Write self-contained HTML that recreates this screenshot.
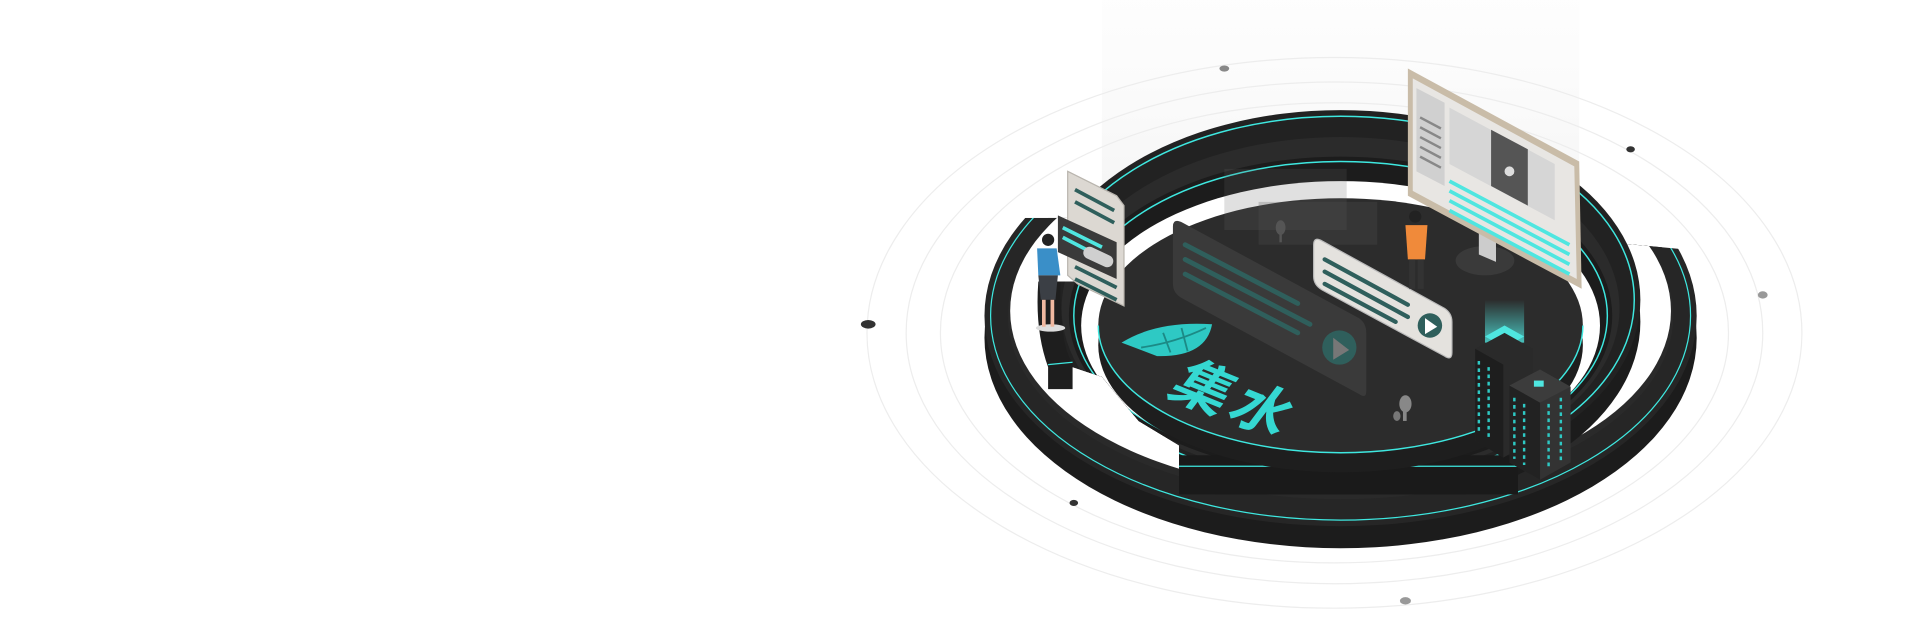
<!DOCTYPE html>
<html><head><meta charset="utf-8"><style>
html,body{margin:0;padding:0;background:#fff;width:1920px;height:640px;overflow:hidden}
svg{display:block}
</style></head><body>
<svg width="1920" height="640" viewBox="0 0 1568 523" xmlns="http://www.w3.org/2000/svg">
<defs>
<linearGradient id="fade" x1="0" y1="0" x2="0" y2="1">
<stop offset="0" stop-color="#fafafa" stop-opacity="0.3"/><stop offset="1" stop-color="#f3f3f3" stop-opacity="1"/>
</linearGradient>
<clipPath id="outerClip"><path d="M780 178 L1100 178 L1400 206 L1400 523 L780 523 Z"/></clipPath>
<clipPath id="midClip"><path d="M700 0 L1600 0 L1600 523 L1240 523 L1240 404 L963 404 L963 364 L930 344 L900 308 L876 300 L848 300 L848 230 L886 230 L886 130 L700 130 Z"/></clipPath>
<linearGradient id="glow" x1="0" y1="0" x2="0" y2="1">
<stop offset="0" stop-color="#4fe6e0" stop-opacity="0"/><stop offset="1" stop-color="#4fe6e0" stop-opacity="0.8"/>
</linearGradient>
</defs>
<rect x="900" y="0" width="390" height="190" fill="url(#fade)"/>
<g fill="none" stroke="#ededed" stroke-width="1">
<ellipse cx="1090" cy="272" rx="382" ry="225"/>
<ellipse cx="1090" cy="272" rx="350" ry="205"/>
<ellipse cx="1090" cy="272" rx="322" ry="188"/>
</g>
<ellipse cx="1000" cy="56" rx="4" ry="2.5" fill="#888"/>
<ellipse cx="1332" cy="122" rx="3.5" ry="2.5" fill="#333"/>
<ellipse cx="1440" cy="241" rx="4" ry="3" fill="#999"/>
<ellipse cx="709" cy="265" rx="6" ry="3.5" fill="#333"/>
<ellipse cx="877" cy="411" rx="3.5" ry="2.5" fill="#333"/>
<ellipse cx="1148" cy="491" rx="4.5" ry="3" fill="#999"/>

<!-- outer C ring -->
<g clip-path="url(#outerClip)">
<ellipse cx="1095" cy="276" rx="291" ry="172" fill="#1c1c1c"/>
<ellipse cx="1095" cy="258" rx="291" ry="172" fill="#262626"/>
<ellipse cx="1095" cy="258" rx="286" ry="167" fill="none" stroke="#3ee8e0" stroke-width="1"/>
<ellipse cx="1095" cy="258" rx="272" ry="150" fill="#2a2a2a"/>
<ellipse cx="1095" cy="254" rx="270" ry="148" fill="#fff"/>
</g>

<!-- middle ring -->
<g clip-path="url(#midClip)">
<ellipse cx="1095" cy="263" rx="245" ry="155" fill="#1c1c1c"/>
<ellipse cx="1095" cy="245" rx="245" ry="155" fill="#222"/>
<ellipse cx="1095" cy="245" rx="240" ry="150" fill="none" stroke="#3ee8e0" stroke-width="1.2"/>
<ellipse cx="1095" cy="252" rx="228" ry="140" fill="#2b2b2b"/>
<ellipse cx="1095" cy="258" rx="222" ry="130" fill="#1c1c1c"/>
<ellipse cx="1095" cy="258" rx="218" ry="126" fill="none" stroke="#3ee8e0" stroke-width="1.2"/>
<ellipse cx="1095" cy="266" rx="212" ry="118" fill="#fff"/>
</g>
<path d="M848 230 L866 230 Q866 285 876 296 L876 318 L856 318 L856 300 Q845 270 848 230 Z" fill="#1e1e1e"/>
<line x1="856" y1="298" x2="876" y2="296" stroke="#3ee8e0" stroke-width="1"/>

<!-- front block -->
<path d="M963 372 L1240 372 L1240 404 L963 404 Z" fill="#1a1a1a"/>
<line x1="963" y1="381" x2="1240" y2="381" stroke="#3ee8e0" stroke-width="1"/>
<!-- inner platform -->
<ellipse cx="1095" cy="282" rx="198" ry="104" fill="#1e1e1e"/>
<ellipse cx="1095" cy="266" rx="198" ry="104" fill="#2c2c2c"/>
<path d="M897 266 A198 104 0 0 0 1293 266" fill="none" stroke="#3ee8e0" stroke-width="1.2"/>
<path d="M1000 138 L1100 138 L1100 188 L1000 188 Z" fill="#666" opacity="0.2"/>
<path d="M1028 165 L1125 165 L1125 200 L1028 200 Z" fill="#555" opacity="0.25"/>
<!-- big dark panel -->
<path d="M958 185 Q958 178 966 182 L1110 260 Q1116 264 1116 272 L1116 320 Q1116 326 1110 322 L966 244 Q958 240 958 232 Z" fill="#3a3a3a"/>
<g stroke="#2f5f5c" stroke-width="4" stroke-linecap="round">
<line x1="968" y1="200" x2="1060" y2="248"/>
<line x1="968" y1="212" x2="1070" y2="265"/>
<line x1="968" y1="224" x2="1060" y2="272"/>
</g>
<circle cx="1094" cy="284" r="14" fill="#2f5f5c"/>
<path d="M1089 276 L1102 286 L1089 294 Z" fill="#777"/>
<!-- light panel -->
<path d="M1073 200 Q1073 193 1080 197 L1180 252 Q1186 256 1186 263 L1186 288 Q1186 295 1180 291 L1080 237 Q1073 233 1073 226 Z" fill="#e4e2de" stroke="#bbb"/>
<g stroke="#2f5f5c" stroke-width="3.5" stroke-linecap="round">
<line x1="1082" y1="212" x2="1150" y2="249"/>
<line x1="1082" y1="222" x2="1150" y2="259"/>
<line x1="1082" y1="232" x2="1140" y2="263"/>
</g>
<circle cx="1168" cy="266" r="10" fill="#2f5f5c"/>
<path d="M1164 260 L1174 267 L1164 273 Z" fill="#fff"/>
<!-- logo -->
<path d="M916 280 Q945 262 990 265 Q985 292 945 291 Z" fill="#2ec9c4"/>
<g stroke="#1c8a86" stroke-width="1.5" fill="none"><path d="M932 284 Q960 280 985 268"/><line x1="950" y1="272" x2="956" y2="288"/><line x1="965" y1="268" x2="970" y2="287"/></g>
<text x="0" y="0" font-family="'Noto Sans CJK SC', sans-serif" font-size="46" font-weight="bold" fill="#35d8d2" transform="translate(952 322) rotate(22) skewX(-15)">集</text>
<text x="0" y="0" font-family="'Noto Sans CJK SC', sans-serif" font-size="46" font-weight="bold" fill="#35d8d2" transform="translate(1000 340) rotate(22) skewX(-15)">水</text>
<ellipse cx="1046" cy="186" rx="4" ry="6" fill="#555"/><rect x="1045" y="190" width="2" height="8" fill="#555"/>
<ellipse cx="1148" cy="330" rx="5" ry="7" fill="#888"/><rect x="1146" y="336" width="3" height="8" fill="#888"/>
<ellipse cx="1141" cy="340" rx="3" ry="4" fill="#777"/>
<!-- left phone panels -->
<path d="M872 140 L912 160 L918 168 L918 250 L880 232 L872 225 Z" fill="#dcd8d2" stroke="#b9b5ae"/>
<g stroke="#2f5f5c" stroke-width="3"><line x1="878" y1="155" x2="910" y2="172"/><line x1="878" y1="165" x2="910" y2="182"/><line x1="878" y1="218" x2="912" y2="235"/><line x1="878" y1="228" x2="912" y2="245"/></g>
<path d="M864 176 L912 198 L912 228 L864 206 Z" fill="#3a3a3a"/>
<g stroke="#4fe6e0" stroke-width="3"><line x1="868" y1="186" x2="900" y2="202"/><line x1="868" y1="194" x2="895" y2="208"/></g>
<rect x="884" y="205" width="26" height="10" rx="5" fill="#cfcfcf" transform="rotate(25 897 210)"/>
<!-- woman -->
<ellipse cx="858" cy="268" rx="12" ry="3" fill="#ddd"/>
<circle cx="856" cy="196" r="5" fill="#222"/>
<path d="M847 203 L863 203 L866 225 L848 225 Z" fill="#3a8fc8"/>
<path d="M848 225 L864 225 L862 245 L850 245 Z" fill="#3b3f45"/>
<rect x="851" y="245" width="3" height="22" fill="#f0b8a0"/><rect x="858" y="245" width="3" height="22" fill="#f0b8a0"/>
<!-- man -->
<circle cx="1156" cy="177" r="5" fill="#222"/>
<path d="M1148 184 L1166 184 L1164 212 L1150 212 Z" fill="#f08a3a"/>
<rect x="1151" y="212" width="5" height="24" fill="#333"/><rect x="1158" y="212" width="5" height="24" fill="#333"/>
<!-- monitor -->
<ellipse cx="1213" cy="213" rx="24" ry="12" fill="#3a3a3a"/>
<path d="M1208 190 L1222 196 L1222 214 L1208 208 Z" fill="#ccc"/>
<path d="M1150 56 L1290 132 L1292 236 L1150 160 Z" fill="#c9bca8"/>
<path d="M1154 64 L1286 136 L1288 228 L1154 156 Z" fill="#e8e6e3"/>
<path d="M1157 72 L1180 84 L1180 152 L1157 140 Z" fill="#d0d0d0"/>
<g stroke="#888" stroke-width="2"><line x1="1160" y1="96" x2="1177" y2="105"/><line x1="1160" y1="104" x2="1177" y2="113"/><line x1="1160" y1="112" x2="1177" y2="121"/><line x1="1160" y1="120" x2="1177" y2="129"/><line x1="1160" y1="128" x2="1177" y2="137"/></g>
<path d="M1184 88 L1270 134 L1270 180 L1184 134 Z" fill="#d6d6d6"/>
<path d="M1218 106 L1248 122 L1248 168 L1218 152 Z" fill="#555"/>
<circle cx="1233" cy="140" r="4" fill="#ddd"/>
<g stroke="#4fe6e0" stroke-width="3"><line x1="1184" y1="148" x2="1282" y2="200"/><line x1="1184" y1="156" x2="1282" y2="208"/><line x1="1184" y1="164" x2="1282" y2="216"/><line x1="1184" y1="172" x2="1282" y2="224"/></g>
<!-- servers -->
<rect x="1213" y="245" width="32" height="35" fill="url(#glow)"/>
<path d="M1213 275 L1229 266 L1245 275 L1229 284 Z" fill="#4fe6e0"/>
<path d="M1205 285 L1229 272 L1252 285 L1252 360 L1228 374 L1205 360 Z" fill="#2a2a2a"/>
<path d="M1205 285 L1228 298 L1228 374 L1205 360 Z" fill="#1e1e1e"/>
<path d="M1233 315 L1258 302 L1283 316 L1283 378 L1258 392 L1233 378 Z" fill="#333"/>
<path d="M1233 315 L1258 329 L1258 392 L1233 378 Z" fill="#222"/>
<path d="M1233 315 L1258 302 L1283 316 L1258 329 Z" fill="#3c3c3c"/>
<rect x="1253" y="311" width="8" height="5" fill="#4fe6e0"/>
<g stroke="#2ec9c4" stroke-width="2" stroke-dasharray="3 3">
<line x1="1208" y1="295" x2="1208" y2="355"/><line x1="1216" y1="300" x2="1216" y2="360"/>
<line x1="1237" y1="325" x2="1237" y2="375"/><line x1="1245" y1="330" x2="1245" y2="380"/>
<line x1="1265" y1="330" x2="1265" y2="382"/><line x1="1275" y1="325" x2="1275" y2="376"/>
</g>
</svg>
</body></html>
